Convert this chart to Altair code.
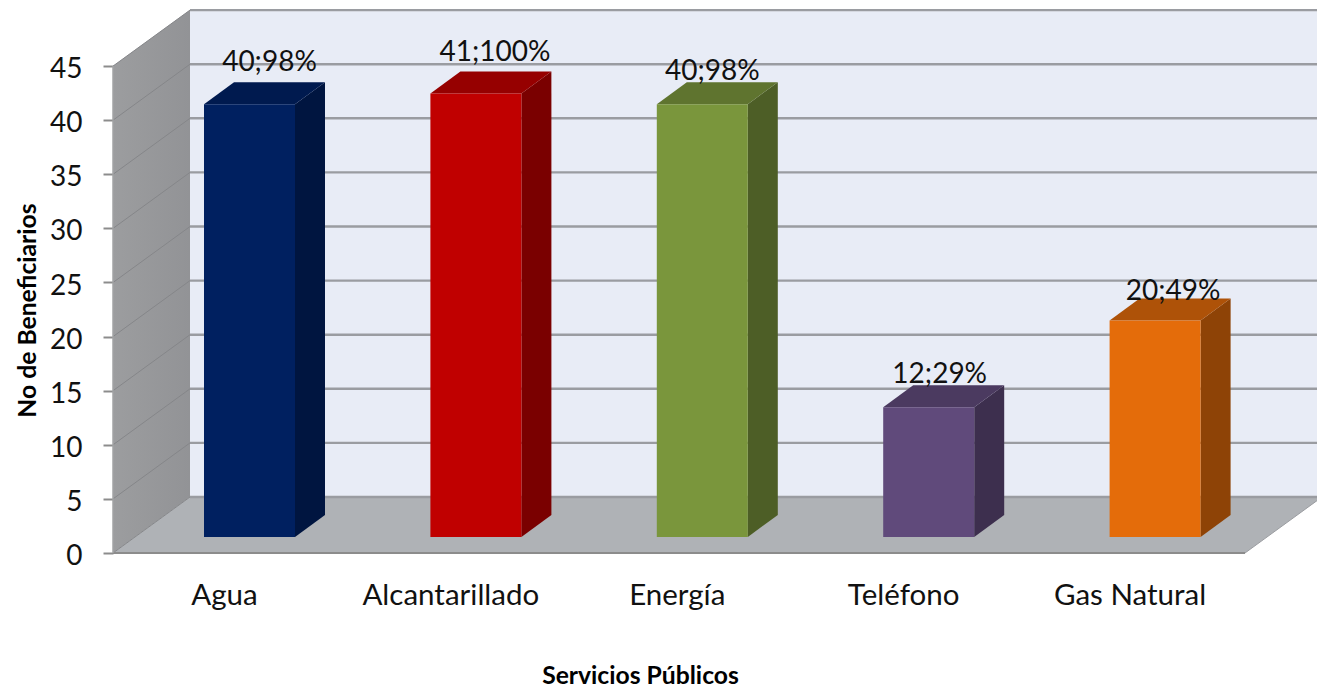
import altair as alt
import pandas as pd

categories = ["Agua", "Alcantarillado", "Energía", "Teléfono", "Gas Natural"]
values = [40, 41, 40, 12, 20]
labels = ["40;98%", "41;100%", "40;98%", "12;29%", "20;49%"]
front_colors = ["#002060", "#C00000", "#7A963C", "#604A7B", "#E46C0A"]
top_colors = ["#001A4F", "#960000", "#5F742F", "#4B3A60", "#AE5208"]
side_colors = ["#001540", "#7A0000", "#4D5E26", "#3D2F4E", "#8E4306"]
y_ticks = [0, 5, 10, 15, 20, 25, 30, 35, 40, 45]
label_shift = [(20, -41), (19, -40), (10, -32), (11, -32), (18, -29)]

PX_X, PX_Y = 226.4, 10.82          # pixels per category / per value unit
WIDTH, HEIGHT = 1204, 544
XMAX, YMAX = WIDTH / PX_X, HEIGHT / PX_Y
DX, DY = 77 / PX_X, 56 / PX_Y      # chart depth
BX, BW = 91 / PX_X, 91 / PX_X      # bar inset and width
BDX, BDY = 30 / PX_X, 22 / PX_Y    # bar depth
BASE = 16 / PX_Y                   # bar base above front edge

FONT = "Lato"
xs = alt.Scale(domain=[0, XMAX], nice=False, zero=False)
ys = alt.Scale(domain=[0, YMAX], nice=False, zero=False)

centres = [i + 0.49 for i in range(5)]
names = {round(c, 2): n for c, n in zip(centres, categories)}
expr = "{" + ",".join(f"'{k:.2f}':'{v}'" for k, v in names.items()) + "}[format(datum.value,'.2f')]"
x_axis = alt.Axis(
    values=centres, labelExpr=expr, title="Servicios Públicos", grid=False, domain=False,
    ticks=False, labelFont=FONT, labelFontSize=29.5, labelColor="#111111", labelPadding=28,
    labelFlush=False, labelOverlap=False, titleFont=FONT, titleFontSize=24.7, titleFontWeight="bold",
    titleColor="#000000", titleX=527, titleY=110, titleAnchor="middle", titleAlign="center")
y_axis = alt.Axis(
    values=y_ticks, title="No de Beneficiarios", grid=False, domain=False, tickColor="#8C8C8C",
    tickSize=10, tickWidth=2, labelFont=FONT, labelFontSize=28, labelColor="#111111", labelPadding=21,
    labelOffset=3.5, labelOverlap=False, labelFlush=False, titleFont=FONT, titleFontSize=24.7,
    titleFontWeight="bold", titleColor="#000000", titleX=-73, titleY=301, titleAlign="center", titleAngle=-90)


def X(f="x"):
    return alt.X(f"{f}:Q", scale=xs, axis=x_axis)


def Y(f="y"):
    return alt.Y(f"{f}:Q", scale=ys, axis=y_axis, stack=None)


layers = []

# back wall
wall = pd.DataFrame({"x": [DX], "x2": [DX + 5], "y": [DY], "y2": [45 + DY]})
layers.append(alt.Chart(wall).mark_rect(color="#E8ECF6").encode(x=X(), x2="x2:Q", y=Y(), y2="y2:Q"))

# left wall
lw = pd.DataFrame({"x": [0, DX], "y": [0, DY], "y2": [45, 45 + DY]})
layers.append(
    alt.Chart(lw).mark_area(
        color=alt.Gradient(gradient="linear", x1=0, x2=1, y1=0, y2=0,
                           stops=[alt.GradientStop(color="#9C9D9F", offset=0),
                                  alt.GradientStop(color="#929396", offset=1)])
    ).encode(x=X(), y=Y(), y2="y2:Q")
)

# floor
fl = pd.DataFrame({"y": [0, DY], "x": [0, DX], "x2": [5, 5 + DX]})
layers.append(
    alt.Chart(fl).mark_area(orient="horizontal", color="#AFB2B6").encode(y=Y(), x=X(), x2="x2:Q")
)

# grid on the walls
for v in y_ticks:
    left = pd.DataFrame({"x": [0, DX], "y": [v, v + DY]})
    back = pd.DataFrame({"x": [DX, DX + 5], "y": [v + DY, v + DY]})
    layers.append(alt.Chart(left).mark_line(color="#858689", strokeWidth=1).encode(x=X(), y=Y()))
    layers.append(alt.Chart(back).mark_line(color="#9A9CA1", strokeWidth=2.4).encode(x=X(), y=Y()))

# front edges
edge = pd.DataFrame({"x": [0, 5], "y": [0, 0]})
layers.append(alt.Chart(edge).mark_line(color="#8C8C8C", strokeWidth=2).encode(x=X(), y=Y()))
edge2 = pd.DataFrame({"x": [0, 0], "y": [0, 45]})
layers.append(alt.Chart(edge2).mark_line(color="#A2A3A5", strokeWidth=1.5).encode(x=X(), y=Y()))
edge3 = pd.DataFrame({"x": [5, 5 + DX], "y": [0, DY]})
layers.append(alt.Chart(edge3).mark_line(color="#9A9CA0", strokeWidth=1).encode(x=X(), y=Y()))

# bars
for i, v in enumerate(values):
    x0 = i + BX
    x1 = x0 + BW
    top = v + BASE
    side = pd.DataFrame({"x": [x1, x1 + BDX], "y": [BASE, BASE + BDY], "y2": [top, top + BDY]})
    layers.append(alt.Chart(side).mark_area(color=side_colors[i]).encode(x=X(), y=Y(), y2="y2:Q"))
    cap = pd.DataFrame({"y": [top, top + BDY], "x": [x0, x0 + BDX], "x2": [x1, x1 + BDX]})
    layers.append(alt.Chart(cap).mark_area(orient="horizontal", color=top_colors[i]).encode(y=Y(), x=X(), x2="x2:Q"))
    front = pd.DataFrame({"x": [x0], "x2": [x1], "y": [BASE], "y2": [top]})
    layers.append(alt.Chart(front).mark_rect(color=front_colors[i]).encode(x=X(), x2="x2:Q", y=Y(), y2="y2:Q"))

# labels
for i, v in enumerate(values):
    d = pd.DataFrame({"x": [i + BX + BW / 2], "y": [v + BASE], "t": [labels[i]]})
    layers.append(
        alt.Chart(d).mark_text(font=FONT, fontSize=28, color="#111111", dx=label_shift[i][0],
                               dy=label_shift[i][1], align="center", baseline="middle")
        .encode(x=X(), y=Y(), text="t:N")
    )

chart = alt.layer(*layers).properties(
    width=WIDTH,
    height=HEIGHT,
    padding={"left": 105, "top": 1, "right": 0, "bottom": 138},
    autosize=alt.AutoSizeParams(type="none"),
    background="#FFFFFF",
).configure_view(stroke=None)

chart.save("out.html", embed_options={"renderer": "svg", "actions": False})
